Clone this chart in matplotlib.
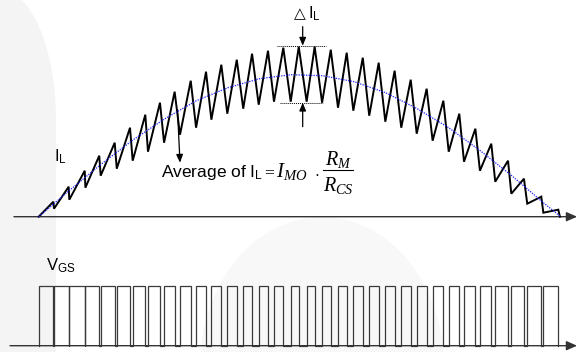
import matplotlib
matplotlib.use("Agg")
import matplotlib.pyplot as plt
from matplotlib.patches import Ellipse, Rectangle
from matplotlib.lines import Line2D

plt.rcParams['font.family'] = ['Liberation Sans', 'DejaVu Sans']
plt.rcParams['mathtext.fontset'] = 'custom'
plt.rcParams['mathtext.rm'] = 'Liberation Sans'
plt.rcParams['mathtext.it'] = 'Liberation Serif:italic'
plt.rcParams['mathtext.bf'] = 'Liberation Serif:bold'

# switching instants (us)
rise_us = [0.0, 9.7, 19.4, 29.6, 39.3, 49.5, 59.6, 69.3, 79.5, 89.6, 99.8,
           109.5, 119.6, 129.7, 139.5, 149.2, 159.8, 169.9, 179.7, 189.8, 199.5,
           209.6, 219.8, 229.9, 239.7, 249.8, 260.0, 269.7, 279.8, 289.5, 299.7,
           309.8, 320.0]
fall_us = [9.3, 19.0, 29.2, 38.4, 48.2, 57.9, 67.6, 76.9, 86.2, 96.4, 106.1,
           115.8, 125.6, 135.3, 145.4, 155.1, 164.9, 175.0, 185.2, 195.3, 205.5,
           215.6, 225.7, 235.9, 246.0, 256.6, 266.7, 276.9, 287.0, 297.6, 307.7,
           318.7, 329.5]
end_us = 330.5

# inductor current (A, arbitrary) at switch-on (valley) and switch-off (peak)
valley_a = [0.00, 0.08, 0.17, 0.29, 0.41, 0.48, 0.56, 0.65, 0.74, 0.82, 0.89,
            0.97, 1.03, 1.08, 1.12, 1.15, 1.15, 1.15, 1.14, 1.09, 1.06, 1.01,
            0.95, 0.89, 0.83, 0.76, 0.65, 0.55, 0.46, 0.35, 0.23, 0.13, 0.04]
peak_a = [0.15, 0.30, 0.46, 0.61, 0.74, 0.89, 1.02, 1.14, 1.25, 1.36, 1.45,
          1.52, 1.57, 1.63, 1.66, 1.69, 1.70, 1.70, 1.67, 1.64, 1.59, 1.54,
          1.46, 1.37, 1.28, 1.16, 1.03, 0.88, 0.73, 0.56, 0.38, 0.20, 0.07]

# average current (blue dotted)
avg_t = [0, 20, 40, 60, 80, 100, 120, 140, 160, 180, 200, 220, 240, 260, 280,
         300, 320, 331]
avg_a = [0.0, 0.27, 0.53, 0.77, 0.98, 1.16, 1.29, 1.38, 1.42, 1.41, 1.35, 1.24,
         1.08, 0.89, 0.66, 0.41, 0.14, 0.0]

vgs_high = 12.0
ripple_top = 1.71
ripple_bot = 1.14

# build waveforms
cur_t, cur_i = [], []
for r, f, v, p in zip(rise_us, fall_us, valley_a, peak_a):
    cur_t += [r, f]
    cur_i += [v, p]
cur_t.append(end_us)
cur_i.append(0.0)

gate_t, gate_v = [], []
for r, f in zip(rise_us, fall_us):
    gate_t += [r, r, f, f]
    gate_v += [0, vgs_high, vgs_high, 0]

fig = plt.figure(figsize=(5.78, 3.52), dpi=100)

# faint background watermark
bg = fig.add_axes([0, 0, 1, 1])
bg.set_xlim(0, 578)
bg.set_ylim(352, 0)
bg.axis('off')
bg.add_patch(Rectangle((0, 120), 56, 232, color='#f4f4f4', lw=0))
bg.add_patch(Ellipse((0, 120), 112, 260, color='#f4f4f4', lw=0))
bg.add_patch(Ellipse((322, 366), 244, 298, color='#f8f8f8', lw=0))

xlim = (-24.54, 341.98)

# ---- inductor current ----
ax1 = fig.add_axes([0, 1 - 230 / 352, 1, 230 / 352])
ax1.patch.set_alpha(0)
ax1.set_xlim(*xlim)
ax1.set_ylim(-0.133, 2.167)
ax1.axis('off')

ax1.annotate('', xy=(341.4, 0), xytext=(-15.7, 0),
             arrowprops=dict(arrowstyle='-|>,head_length=0.8,head_width=0.35',
                             color='#333333', lw=1.0, mutation_scale=8,
                             shrinkA=0, shrinkB=0))
ax1.plot(cur_t, cur_i, color='black', lw=1.4, solid_joinstyle='miter', zorder=3)
ax1.plot(avg_t, avg_a, color='#2020ff', lw=0.9, ls=(0, (1, 1)), zorder=4)

# ripple markers
ax1.plot([150.9, 182.2], [ripple_top, ripple_top], color='black', lw=0.7,
         ls=(0, (1, 1)))
ax1.plot([153.0, 180.1], [ripple_bot, ripple_bot], color='black', lw=0.7,
         ls=(0, (1, 1)))
arrow_kw = dict(arrowstyle='-|>,head_length=0.6,head_width=0.25', color='black',
                lw=0.9, mutation_scale=8, shrinkA=0, shrinkB=0)
ax1.annotate('', xy=(167.4, ripple_top), xytext=(167.4, 1.90), arrowprops=arrow_kw)
ax1.annotate('', xy=(167.4, ripple_bot), xytext=(167.4, 0.90), arrowprops=arrow_kw)
ax1.annotate('', xy=(89.6, 0.54), xytext=(88.0, 1.07), arrowprops=arrow_kw)

# ---- gate signal ----
ax2 = fig.add_axes([0, 0, 1, 122 / 352])
ax2.patch.set_alpha(0)
ax2.set_xlim(*xlim)
ax2.set_ylim(-1.266, 23.26)
ax2.axis('off')
ax2.plot(gate_t, gate_v, color='#3a3a3a', lw=0.9, solid_joinstyle='miter')
ax2.annotate('', xy=(341.4, 0), xytext=(-18.2, 0),
             arrowprops=dict(arrowstyle='-|>,head_length=0.8,head_width=0.35',
                             color='#333333', lw=1.0, mutation_scale=8,
                             shrinkA=0, shrinkB=0))

# ---- labels ----
def fx(x):
    return x / 578


def fy(y):
    return 1 - y / 352


fig.text(fx(54), fy(162), r'I$_\mathrm{L}$', fontsize=12, va='baseline')
fig.text(fx(46), fy(271), r'V$_\mathrm{GS}$', fontsize=12, va='baseline')
fig.text(fx(294), fy(18.5), '\u25b3', fontsize=11, va='baseline',
         family='DejaVu Sans')
fig.text(fx(308), fy(18.5), r'I$_\mathrm{L}$', fontsize=12, va='baseline')

# average-current formula
fig.text(fx(161), fy(177), r'Average of I$_\mathrm{L}$', fontsize=12.5,
         va='baseline')
fig.text(fx(264), fy(177), '=', fontsize=12.5, va='baseline',
         family='Liberation Serif')
fig.text(fx(276), fy(177), r'$I_{MO}$', fontsize=15, va='baseline')
fig.text(fx(314), fy(177), r'$\cdot$', fontsize=12.5, va='baseline')
fig.text(fx(338), fy(165.5), r'$R_M$', fontsize=14.5, va='baseline', ha='center')
fig.text(fx(338), fy(191.5), r'$R_{CS}$', fontsize=14.5, va='baseline', ha='center')
fig.add_artist(Line2D([fx(323), fx(353)], [fy(170), fy(170)], color='black',
                      lw=0.8))

fig.savefig('out.png', dpi=100)
